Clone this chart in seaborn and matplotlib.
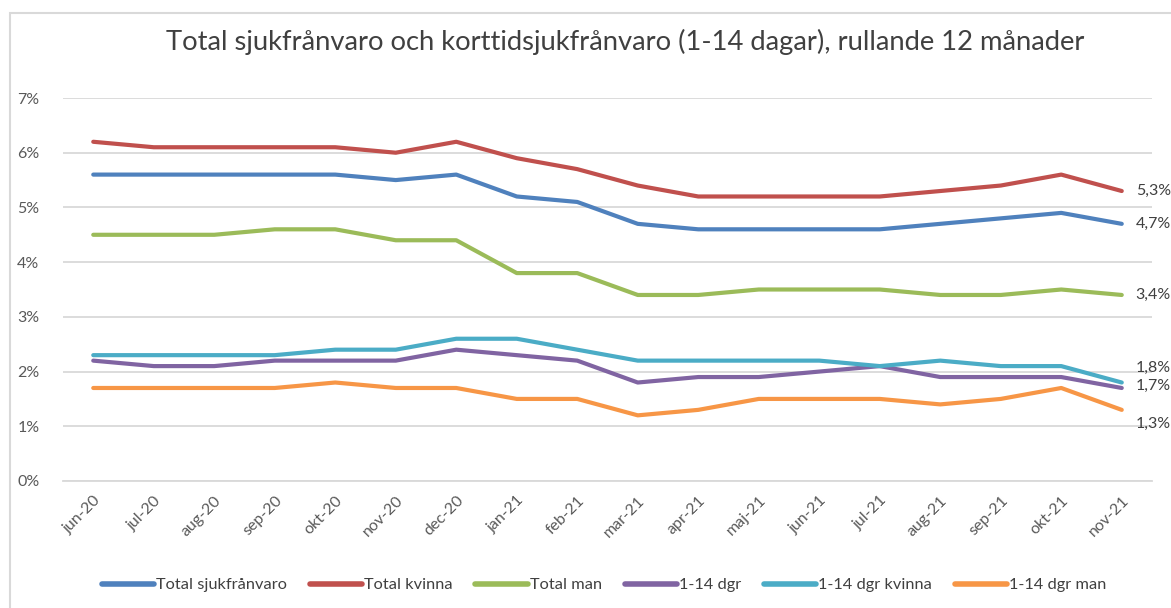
import seaborn as sns
import matplotlib.pyplot as plt
import pandas as pd
from matplotlib.patches import Rectangle

# Data (rullande 12 månader, procent)
months = ['jun-20', 'jul-20', 'aug-20', 'sep-20', 'okt-20', 'nov-20', 'dec-20',
          'jan-21', 'feb-21', 'mar-21', 'apr-21', 'maj-21', 'jun-21', 'jul-21',
          'aug-21', 'sep-21', 'okt-21', 'nov-21']
total = [5.6, 5.6, 5.6, 5.6, 5.6, 5.5, 5.6, 5.2, 5.1, 4.7, 4.6, 4.6, 4.6, 4.6, 4.7, 4.8, 4.9, 4.7]
total_kvinna = [6.2, 6.1, 6.1, 6.1, 6.1, 6.0, 6.2, 5.9, 5.7, 5.4, 5.2, 5.2, 5.2, 5.2, 5.3, 5.4, 5.6, 5.3]
total_man = [4.5, 4.5, 4.5, 4.6, 4.6, 4.4, 4.4, 3.8, 3.8, 3.4, 3.4, 3.5, 3.5, 3.5, 3.4, 3.4, 3.5, 3.4]
dgr = [2.2, 2.1, 2.1, 2.2, 2.2, 2.2, 2.4, 2.3, 2.2, 1.8, 1.9, 1.9, 2.0, 2.1, 1.9, 1.9, 1.9, 1.7]
dgr_kvinna = [2.3, 2.3, 2.3, 2.3, 2.4, 2.4, 2.6, 2.6, 2.4, 2.2, 2.2, 2.2, 2.2, 2.1, 2.2, 2.1, 2.1, 1.8]
dgr_man = [1.7, 1.7, 1.7, 1.7, 1.8, 1.7, 1.7, 1.5, 1.5, 1.2, 1.3, 1.5, 1.5, 1.5, 1.4, 1.5, 1.7, 1.3]

series = {
    'Total sjukfrånvaro': total,
    'Total kvinna': total_kvinna,
    'Total man': total_man,
    '1-14 dgr': dgr,
    '1-14 dgr kvinna': dgr_kvinna,
    '1-14 dgr man': dgr_man,
}
colors = ['#4F81BD', '#C0504D', '#9BBB59', '#8064A2', '#4BACC6', '#F79646']
# label offsets in pixels (Excel spreads the end labels a bit)
label_dy = [0, 0, 0, 2, 15, -14]

rows = []
for name, vals in series.items():
    for i, v in enumerate(vals):
        rows.append({'month': i, 'serie': name, 'value': v})
df = pd.DataFrame(rows)

sns.set_style('white')
plt.rcParams['font.family'] = ['Lato', 'DejaVu Sans']

fig = plt.figure(figsize=(11.71, 6.08), dpi=100)
ax = fig.add_axes([63 / 1171, 1 - 481 / 608, (1152 - 63) / 1171, (481 - 98) / 608])

sns.lineplot(data=df, x='month', y='value', hue='serie', hue_order=list(series),
             palette=colors, linewidth=3, ax=ax, legend=False,
             solid_capstyle='round', solid_joinstyle='round')

ax.set_xlim(-0.5, len(months) - 0.5)
ax.set_ylim(0, 7)
ax.set_yticks(range(0, 8))
ax.set_yticklabels([f'{i}%' for i in range(0, 8)], fontsize=11.5, color='#595959')
ax.yaxis.grid(True, color='#D9D9D9', linewidth=1.3)
ax.set_axisbelow(True)
ax.tick_params(axis='y', length=0, pad=17)

ax.set_xticks(range(len(months)))
ax.set_xticklabels(months, rotation=45, ha='right', rotation_mode='anchor',
                   fontsize=11.5, color='#595959')
ax.set_xticks([i - 0.5 for i in range(len(months) + 1)], minor=True)
ax.tick_params(axis='x', which='major', length=0, pad=9)
ax.tick_params(axis='x', which='minor', length=5, color='#D9D9D9', width=1.3)
ax.set_xlabel('')
ax.set_ylabel('')
for s in ['top', 'right', 'left']:
    ax.spines[s].set_visible(False)
ax.spines['bottom'].set_color('#D9D9D9')
ax.spines['bottom'].set_linewidth(1.3)

# end labels
last = len(months) - 1
for (name, vals), dy in zip(series.items(), label_dy):
    ax.annotate(f'{vals[-1]:.1f}%'.replace('.', ','), (last, vals[-1]),
                xytext=(14, dy), textcoords='offset pixels', va='center',
                ha='left', fontsize=11.5, color='#404040', annotation_clip=False)

fig.suptitle('Total sjukfrånvaro och korttidsjukfrånvaro (1-14 dagar), rullande 12 månader',
             x=625 / 1171, y=1 - 42 / 608, va='center', fontsize=19.7, color='#404040')

handles = [plt.Line2D([], [], color=c, linewidth=4, solid_capstyle='round') for c in colors]
fig.legend(handles, list(series), loc='center', bbox_to_anchor=(604 / 1171, 1 - 585 / 608),
           ncol=6, frameon=False, fontsize=11.8, handlelength=3.2, handletextpad=0.1,
           columnspacing=1.4, labelcolor='#404040')

# chart border
fig.patches.append(Rectangle((10 / 1171, -0.1), 1.2, 1 - 13 / 608 + 0.1,
                             transform=fig.transFigure, fill=False,
                             edgecolor='#D9D9D9', linewidth=1.5))

fig.savefig('out.png', dpi=100)
